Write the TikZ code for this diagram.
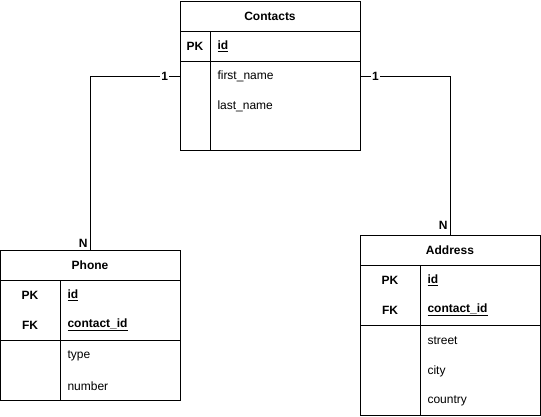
\documentclass[tikz,border=0pt]{standalone}
\usepackage{fontspec}
\setmainfont{Liberation Sans}
\usetikzlibrary{positioning}

\begin{document}
\begin{tikzpicture}[x=1pt, y=-1pt, line width=1pt,
                    font=\fontsize{12pt}{14pt}\selectfont,
                    header/.style={rectangle, draw=black, minimum width=180pt, minimum height=30pt, inner sep=0pt, font=\fontsize{12pt}{14pt}\selectfont\bfseries},
                    section/.style={rectangle, draw=black, minimum width=180pt, inner sep=0pt},
                    keytext/.style={inner sep=0pt, font=\fontsize{12pt}{14pt}\selectfont\bfseries},
                    field/.style={anchor=west, inner sep=0pt},
                    card/.style={fill=white, inner sep=1pt, font=\fontsize{12pt}{14pt}\selectfont\bfseries},
                    link/.style={draw=black, line width=1pt}]
    \useasboundingbox (0,0) rectangle (541,416);

    % Contacts Entity
    \node[header] (contacts) at (270,16) {Contacts};
    \node[section, minimum height=30pt] (ckeys) at (270,46) {};
    \node[section, minimum height=89pt] (cfields) at (270,105.5) {};
    \draw (210,31) -- (210,150);
    \node[keytext] (cpk) at (195,46) {PK};
    \node[field, font=\fontsize{12pt}{14pt}\selectfont\bfseries] (cid) at (217,46) {\underline{id}};
    \node[field] (cfirst) at (217,76) {first\_name};
    \node[field] (clast) at (217,106) {last\_name};

    % Phone Entity
    \node[header] (phone) at (90,265) {Phone};
    \node[section, minimum height=60pt] (pkeys) at (90,310) {};
    \node[section, minimum height=60pt] (pfields) at (90,370) {};
    \draw (60,280) -- (60,400);
    \node[keytext] (ppk) at (30,295) {PK};
    \node[keytext] (pfk) at (30,325) {FK};
    \node[field, font=\fontsize{12pt}{14pt}\selectfont\bfseries] (pid) at (67,295) {\underline{id}};
    \node[field, font=\fontsize{12pt}{14pt}\selectfont\bfseries] (pcontactid) at (67,325) {\underline{contact\_id}};
    \node[field] (ptype) at (67,356) {type};
    \node[field] (pnumber) at (67,386) {number};

    % Address Entity
    \node[header] (address) at (450,250) {Address};
    \node[section, minimum height=60pt] (akeys) at (450,295) {};
    \node[section, minimum height=90pt] (afields) at (450,370) {};
    \draw (420,265) -- (420,415);
    \node[keytext] (apk) at (390,280) {PK};
    \node[keytext] (afk) at (390,310) {FK};
    \node[field, font=\fontsize{12pt}{14pt}\selectfont\bfseries] (aid) at (427,280) {\underline{id}};
    \node[field, font=\fontsize{12pt}{14pt}\selectfont\bfseries] (acontactid) at (427,310) {\underline{contact\_id}};
    \node[field] (astreet) at (427,341) {street};
    \node[field] (acity) at (427,371) {city};
    \node[field] (acountry) at (427,401) {country};

    % Relationships
    \draw[link] (cfields.west |- cfirst) -| node[card, pos=0.083]{1} node[card, pos=1, anchor=south east, fill=none, inner sep=2pt]{N} (phone.north);
    \draw[link] (cfields.east |- cfirst) -| node[card, pos=0.083]{1} node[card, pos=1, anchor=south east, fill=none, inner sep=2pt, yshift=3pt]{N} (address.north);
\end{tikzpicture}
\end{document}
